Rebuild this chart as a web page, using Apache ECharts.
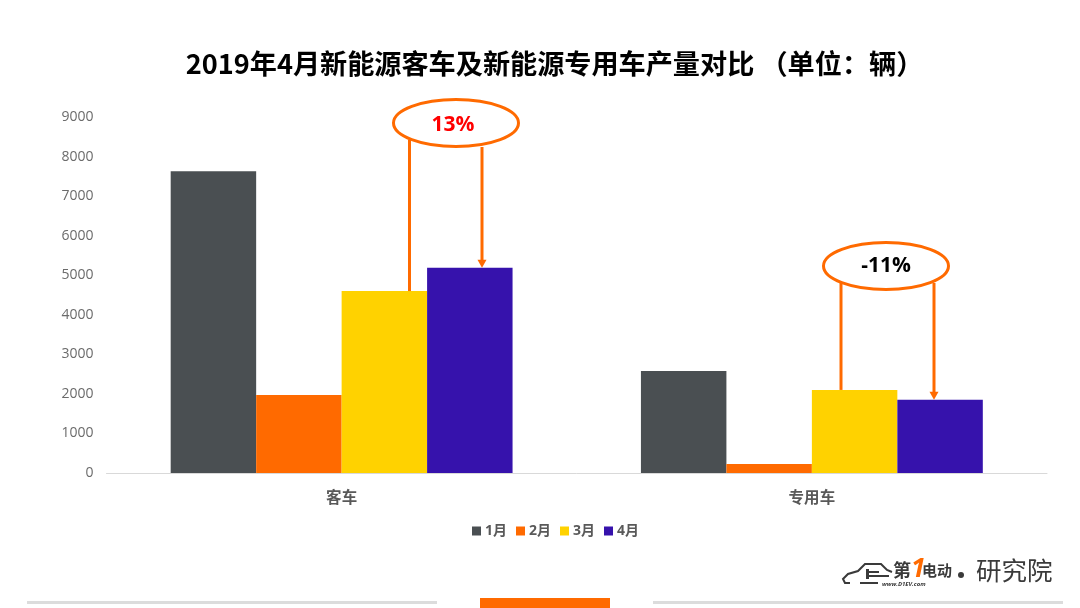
<!DOCTYPE html>
<html>
<head>
<meta charset="utf-8">
<style>
html, body { margin: 0; padding: 0; background: #fff; }
#chart { width: 1080px; height: 608px; }
</style>
<script src="https://cdn.jsdelivr.net/npm/echarts@6/dist/echarts.min.js"></script>
</head>
<body>
<div id="chart"></div>
<script>
const categories = ["客车", "专用车"];
const jan = [7630, 2580];
const feb = [1970, 230];
const mar = [4600, 2100];
const apr = [5190, 1850];
const months = ["1月", "2月", "3月", "4月"];
const colors = ["#4a4f52", "#ff6a00", "#ffd200", "#3612ac"];
const changes = ["13%", "-11%"];

const latin = '"Open Sans", "Noto Sans CJK SC", sans-serif';
const cjk = '"Noto Sans CJK SC", sans-serif';
const orange = "#ff6a00";
const logoGray = "#3a3a3a";

const chart = echarts.init(document.getElementById("chart"), null, { renderer: "canvas" });

const makeSeries = (name, data, color) => ({
    name: name,
    type: "bar",
    data: data,
    barGap: 0,
    barCategoryGap: "27.3%",
    itemStyle: { color: color },
    silent: true
});

const option = {
    animation: false,
    backgroundColor: "#fff",
    title: {
        text: "2019年4月新能源客车及新能源专用车产量对比 （单位：辆）",
        left: 549.5,
        top: 45,
        textAlign: "center",
        textStyle: { fontFamily: cjk, fontWeight: "bold", fontSize: 27.15, color: "#000" }
    },
    legend: {
        data: months,
        left: 467,
        top: 519,
        itemWidth: 9,
        itemHeight: 9,
        itemGap: 9,
        icon: "rect",
        textStyle: { fontFamily: latin, fontWeight: "bold", fontSize: 14, color: "#595959", padding: [0, 0, 0, -1] }
    },
    grid: { left: 106.5, right: 33, top: 117, bottom: 135 },
    xAxis: {
        type: "category",
        data: categories,
        axisLine: { lineStyle: { color: "#d9d9d9", width: 1 } },
        axisTick: { show: false },
        axisLabel: { fontFamily: latin, fontWeight: "bold", fontSize: 15.5, color: "#595959", margin: 18 }
    },
    yAxis: {
        type: "value",
        min: 0,
        max: 9000,
        interval: 1000,
        axisLine: { show: false },
        axisTick: { show: false },
        splitLine: { show: false },
        axisLabel: {
            fontFamily: latin,
            fontSize: 14,
            color: "#6b6b6b",
            margin: 13,
            padding: [4, 0, 0, 0],
            formatter: (v) => String(v)
        }
    },
    series: [
        makeSeries(months[0], jan, colors[0]),
        makeSeries(months[1], feb, colors[1]),
        makeSeries(months[2], mar, colors[2]),
        makeSeries(months[3], apr, colors[3])
    ]
};
chart.setOption(option);

// 标注：两根连线的下端跟随柱子的值
const yOf = (v) => chart.convertToPixel({ yAxisIndex: 0 }, v);

const connector = (x, y1, y2) => ({
    type: "line",
    z: 20,
    shape: { x1: x, y1: y1, x2: x, y2: y2 },
    style: { stroke: orange, lineWidth: 3 }
});
const arrowHead = (x, y) => ({
    type: "polygon",
    z: 20,
    shape: { points: [[x - 4.5, y - 8], [x + 4.5, y - 8], [x, y]] },
    style: { fill: orange }
});
const bubble = (cx, cy) => ({
    type: "ellipse",
    z: 21,
    shape: { cx: cx, cy: cy, rx: 62.5, ry: 23.5 },
    style: { stroke: orange, lineWidth: 3, fill: "#fff" }
});
const bubbleText = (cx, cy, text, color) => ({
    type: "text",
    z: 22,
    style: {
        x: cx, y: cy, text: text, align: "center", verticalAlign: "middle",
        fontFamily: latin, fontWeight: "bold", fontSize: 21, fill: color
    }
});
const logoText = (x, y, text, size, extra) => ({
    type: "text",
    style: Object.assign({ x: x, y: y, text: text, fontFamily: cjk, fontWeight: "bold", fontSize: size, fill: logoGray }, extra)
});

chart.setOption({
    graphic: [
        connector(409.5, 140, yOf(mar[0])),
        connector(482, 147, yOf(apr[0]) - 6),
        arrowHead(482, yOf(apr[0])),
        bubble(456, 123),
        bubbleText(453, 125, changes[0], "#ff0000"),
        connector(841, 283, yOf(mar[1])),
        connector(934, 283, yOf(apr[1]) - 6),
        arrowHead(934, yOf(apr[1])),
        bubble(886, 266),
        bubbleText(886, 266, changes[1], "#000"),
        // 底部装饰条
        { type: "rect", shape: { x: 27, y: 601, width: 410, height: 3 }, style: { fill: "#dcdcdc" } },
        { type: "rect", shape: { x: 653, y: 601, width: 410, height: 3 }, style: { fill: "#dcdcdc" } },
        { type: "rect", shape: { x: 480, y: 598, width: 130, height: 10 }, style: { fill: orange } },
        // 右下角标识
        {
            type: "polyline",
            shape: {
                points: [[850, 583], [845, 583], [843, 579], [848, 574], [858, 571], [865, 564], [881, 564], [887, 570], [892, 572]]
            },
            style: { fill: null, stroke: logoGray, lineWidth: 2 }
        },
        {
            type: "polyline",
            shape: { points: [[860, 583], [878, 583]] },
            style: { fill: null, stroke: logoGray, lineWidth: 2 }
        },
        { type: "rect", shape: { x: 866, y: 569, width: 3, height: 10 }, style: { fill: logoGray } },
        { type: "rect", shape: { x: 869, y: 571, width: 10, height: 2 }, style: { fill: logoGray } },
        { type: "rect", shape: { x: 869, y: 575, width: 20, height: 2 }, style: { fill: logoGray } },
        logoText(893, 561, "第", 18),
        logoText(911, 557, "1", 26, { fontFamily: latin, fontStyle: "italic", fill: orange }),
        logoText(922, 563, "电动", 15),
        logoText(882, 581, "www.D1EV.com", 6, { fontFamily: latin, fontStyle: "italic" }),
        { type: "circle", shape: { cx: 961, cy: 575, r: 3 }, style: { fill: logoGray } },
        logoText(976, 558, "研究院", 25.5, { fontWeight: "normal" })
    ]
});
</script>
</body>
</html>
